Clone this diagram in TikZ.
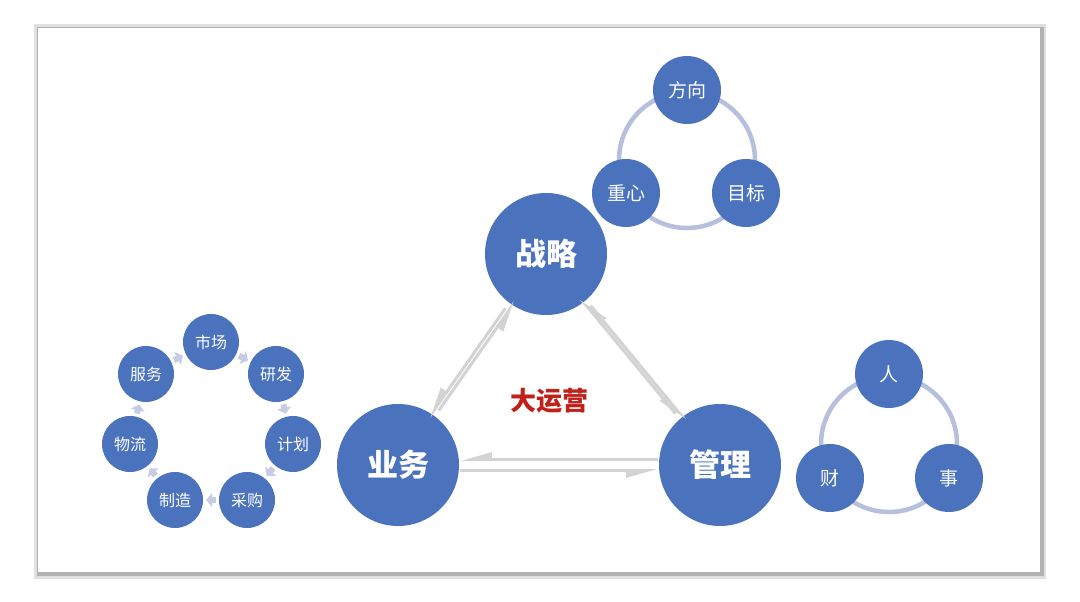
\documentclass[tikz,border=0pt]{standalone}
\usepackage{fontspec}
\setmainfont{Noto Sans CJK SC}
\usetikzlibrary{arrows.meta}
\definecolor{nb}{HTML}{4A72BD}
\definecolor{ring}{HTML}{B6BFDC}
\definecolor{hg}{HTML}{D3D3D3}
\definecolor{rd}{HTML}{C0211A}
\tikzset{
 big/.style={circle,fill=nb,text=white,minimum size=122pt,inner sep=0pt,font=\fontsize{31}{31}\selectfont\bfseries},
 mid/.style={circle,fill=nb,text=white,minimum size=68pt,inner sep=0pt,font=\fontsize{19}{19}\selectfont},
 sml/.style={circle,fill=nb,text=white,minimum size=56pt,inner sep=0pt,font=\fontsize{16}{16}\selectfont},
 harp/.style={draw=hg,line width=3pt,-{Triangle[harpoon,swap,length=26pt,width=14pt]},shorten >=1pt,shorten <=1pt},
 ringl/.style={draw=ring,line width=4.5pt},
 cyc/.style={draw=ring!80,line width=6pt,-{Triangle[length=6pt,width=14pt]},shorten >=3pt,shorten <=3pt}
}
\begin{document}
\begin{tikzpicture}[x=1pt,y=-1pt]
\useasboundingbox (0,0) rectangle (1080,602);
\fill[white] (0,0) rectangle (1080,602);
\fill[black!12] (34,24) rectangle (1046,579);
\fill[black!30] (37,27) rectangle (1044,576);
\fill[white] (38,28) rectangle (1040,572);
% top cluster
\draw[ringl] (687,160) circle (68);
\node[mid] (fx) at (687,90) {方向};
\node[mid] (zx) at (626,193) {重心};
\node[mid] (mb) at (746,193) {目标};
% right cluster
\draw[ringl] (889,444) circle (68);
\node[mid] (ren) at (889,374) {人};
\node[mid] (cai) at (830,478) {财};
\node[mid] (shi) at (949,478) {事};
% main
\node[big] (zl) at (546,254) {战略};
\node[big] (yw) at (398,465) {业务};
\node[big] (gl) at (720,465) {管理};
\node[text=rd,font=\fontsize{26}{26}\selectfont\bfseries] (dy) at (549,401) {大运营};
\draw[harp,transform canvas={shift={(5pt,3.5pt)}}] (yw) -- (zl);
\draw[harp,transform canvas={shift={(-5pt,-3.5pt)}}] (zl) -- (yw);
\draw[harp,transform canvas={shift={(-5pt,3.5pt)}}] (gl) -- (zl);
\draw[harp,transform canvas={shift={(5pt,-3.5pt)}}] (zl) -- (gl);
\draw[harp,transform canvas={shift={(0pt,5.5pt)}}] (gl) -- (yw);
\draw[harp,transform canvas={shift={(0pt,-5.5pt)}}] (yw) -- (gl);
% left cycle
\node[sml] (sc) at (211,342) {市场};
\node[sml] (yf) at (276,374) {研发};
\node[sml] (jh) at (293,444) {计划};
\node[sml] (cg) at (247,500) {采购};
\node[sml] (zz) at (175,500) {制造};
\node[sml] (wl) at (130,444) {物流};
\node[sml] (fw) at (146,374) {服务};
\draw[cyc] (sc) -- (yf);
\draw[cyc] (yf) -- (jh);
\draw[cyc] (jh) -- (cg);
\draw[cyc] (cg) -- (zz);
\draw[cyc] (zz) -- (wl);
\draw[cyc] (wl) -- (fw);
\draw[cyc] (fw) -- (sc);
\end{tikzpicture}
\end{document}
